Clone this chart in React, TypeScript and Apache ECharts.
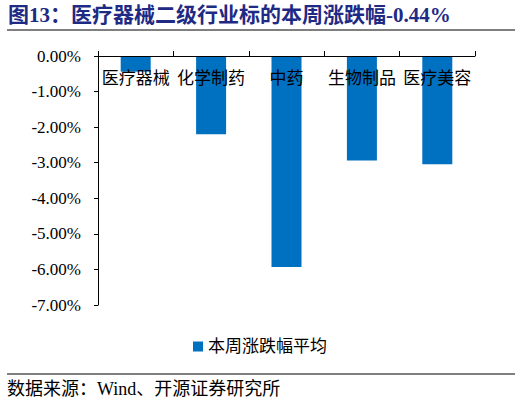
import { useEffect, useRef } from "react";
import * as echarts from "echarts";

const categories = ["医疗器械", "化学制药", "中药", "生物制品", "医疗美容"];
const weeklyChange = [-0.44, -2.2, -5.93, -2.94, -3.04];
const seriesName = "本周涨跌幅平均";
const titleText = "图13：医疗器械二级行业标的本周涨跌幅-0.44%";
const sourceText = "数据来源：Wind、开源证券研究所";

const serifFont = "'Liberation Serif', 'Noto Sans CJK SC', serif";
const cjkFont = "'Liberation Serif', 'Noto Sans CJK SC', sans-serif";

export default function App() {
  const chartRef = useRef<HTMLDivElement>(null);

  useEffect(() => {
    if (!chartRef.current) return;
    const chart = echarts.init(chartRef.current, undefined, { renderer: "svg" });

    chart.setOption({
      animation: false,
      backgroundColor: "#fff",
      grid: { left: 98, right: 47, top: 56, bottom: 99 },
      legend: {
        left: 188,
        top: 333,
        icon: "rect",
        itemWidth: 10,
        itemHeight: 10,
        textStyle: { fontFamily: cjkFont, fontSize: 17, color: "#000" },
        data: [seriesName],
      },
      xAxis: {
        type: "category",
        position: "top",
        z: 10,
        data: categories,
        axisLine: { lineStyle: { color: "#000", width: 1 } },
        axisTick: { show: true, length: 5, lineStyle: { color: "#000" } },
        axisLabel: {
          inside: true,
          interval: 0,
          margin: 14,
          color: "#000",
          fontFamily: cjkFont,
          fontSize: 17,
        },
      },
      yAxis: {
        type: "value",
        min: -7,
        max: 0,
        interval: 1,
        axisLine: { show: true, lineStyle: { color: "#000", width: 1 } },
        axisTick: { show: true, length: 4, lineStyle: { color: "#000" } },
        splitLine: { show: false },
        axisLabel: {
          margin: 17,
          color: "#000",
          fontFamily: serifFont,
          fontSize: 17,
          formatter: (v: number) => v.toFixed(2) + "%",
        },
      },
      series: [
        {
          name: seriesName,
          type: "bar",
          barWidth: 30,
          data: weeklyChange,
          itemStyle: { color: "#0070C0" },
        },
      ],
      graphic: [
        {
          type: "text",
          left: 8,
          top: 4,
          style: {
            text: titleText,
            fontFamily: serifFont,
            fontWeight: "bold",
            fontSize: 21,
            fill: "#1e2a84",
          },
        },
        {
          type: "line",
          shape: { x1: 7, y1: 30, x2: 515, y2: 30 },
          style: { stroke: "#000", lineWidth: 1 },
        },
        {
          type: "line",
          shape: { x1: 7, y1: 374, x2: 515, y2: 374 },
          style: { stroke: "#000", lineWidth: 1 },
        },
        {
          type: "text",
          left: 7,
          top: 380,
          style: {
            text: sourceText,
            fontFamily: cjkFont,
            fontSize: 18,
            fill: "#000",
          },
        },
      ],
    });

    return () => {
      chart.dispose();
    };
  }, []);

  return (
    <div
      ref={chartRef}
      style={{ position: "fixed", left: 0, top: 0, width: 522, height: 404 }}
    />
  );
}
